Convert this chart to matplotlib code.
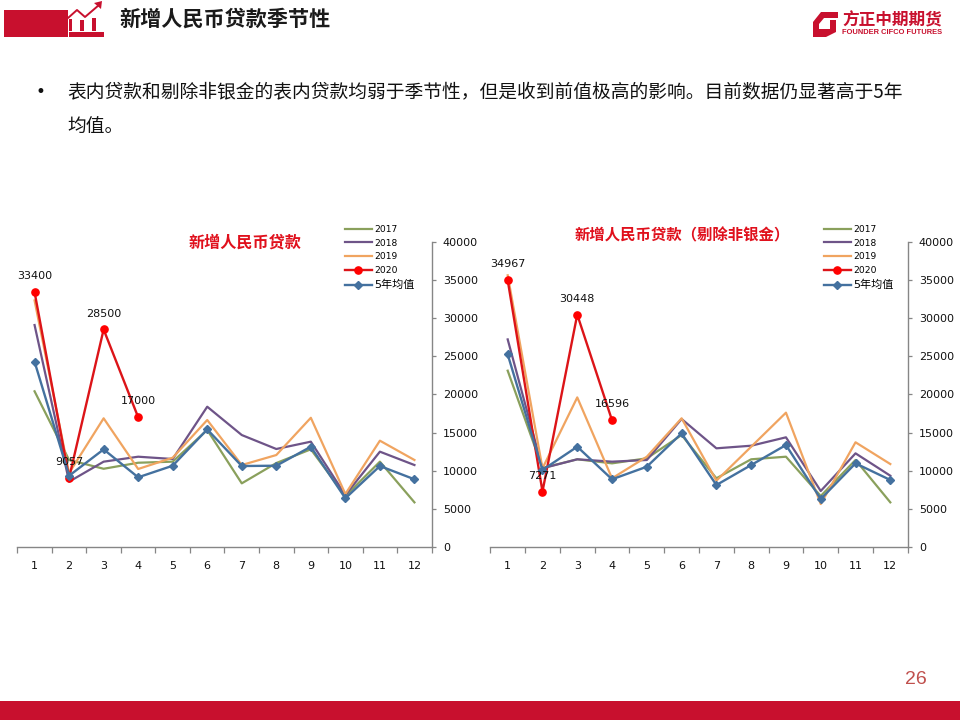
import matplotlib
matplotlib.use('Agg')
import matplotlib.pyplot as plt
from matplotlib.patches import Polygon, Rectangle

plt.rcParams['font.family'] = ['DejaVu Sans', 'Noto Sans CJK SC']

months = list(range(1, 13))
series_names = ['2017', '2018', '2019', '2020', '5年均值']
y_ticks = [0, 5000, 10000, 15000, 20000, 25000, 30000, 35000, 40000]

left_2017 = [20400, 11400, 10250, 11040, 11180, 15330, 8340, 11000, 12800, 6680, 11180, 5850]
left_2018 = [29080, 8560, 11180, 11830, 11530, 18380, 14670, 12840, 13800, 6810, 12490, 10740]
left_2019 = [32300, 9690, 16860, 10220, 11700, 16640, 10740, 12050, 16930, 6940, 13930, 11400]
left_2020 = [33400, 9057, 28500, 17000]
left_mean = [24280, 9340, 12790, 9130, 10650, 15410, 10610, 10650, 13140, 6380, 10610, 8870]

right_2017 = [23100, 10350, 11490, 10960, 11620, 14670, 9000, 11490, 11830, 6680, 11400, 5850]
right_2018 = [27200, 10310, 11490, 11180, 11400, 16770, 12930, 13270, 14370, 7340, 12270, 9340]
right_2019 = [35600, 10300, 19600, 9000, 11830, 16860, 8690, 13140, 17600, 5630, 13720, 10870]
right_2020 = [34967, 7271, 30448, 16596]
right_mean = [25240, 10090, 13140, 8870, 10520, 14890, 8120, 10740, 13360, 6290, 10960, 8780]

RED = '#C8102E'
GRAY = '#868686'
W, H = 960, 720

fig = plt.figure(figsize=(9.6, 7.2), dpi=100)
bg = fig.add_axes([0, 0, 1, 1])
bg.set_xlim(0, W)
bg.set_ylim(H, 0)
bg.axis('off')


def draw_chart(box, title, title_x, title_y, title_size, legend_x, values):
	x0, x1 = box
	ax = fig.add_axes([x0 / W, 1 - 547 / H, (x1 - x0) / W, 305.3 / H])
	ax.patch.set_alpha(0)
	v2017, v2018, v2019, v2020, vmean = values
	ax.plot(months, v2017, color='#8AA05C', lw=1.6, label=series_names[0])
	ax.plot(months, v2018, color='#6E5488', lw=1.6, label=series_names[1])
	ax.plot(months, v2019, color='#F0A460', lw=1.6, label=series_names[2])
	ax.plot(months[:4], v2020, color='#DC1418', lw=1.7, marker='o', ms=5.2,
		mfc='#FF0000', mec='#FF0000', label=series_names[3])
	ax.plot(months, vmean, color='#44719F', lw=1.7, marker='D', ms=4.4,
		mfc='#44719F', mec='#44719F', label=series_names[4])

	for m, v in zip(months[:4], v2020):
		ax.annotate(str(v), (m, v), xytext=(0, 11.5), textcoords='offset points',
			ha='center', va='center', fontsize=8, color='#111111')

	ax.set_xlim(0.5, 12.5)
	ax.set_ylim(0, 40000)
	ax.set_yticks(y_ticks)
	ax.yaxis.tick_right()
	ax.set_xticks(months)
	ax.set_xticks([m + 0.5 for m in range(0, 13)], minor=True)
	ax.tick_params(axis='x', which='major', length=0, pad=10, labelsize=8, labelcolor='#111111')
	ax.tick_params(axis='x', which='minor', length=4, width=0.9, color=GRAY, direction='out')
	ax.tick_params(axis='y', length=3, width=0.9, color=GRAY, pad=5, labelsize=8, labelcolor='#111111')
	for side in ['left', 'top']:
		ax.spines[side].set_visible(False)
	for side in ['bottom', 'right']:
		ax.spines[side].set_color(GRAY)
		ax.spines[side].set_linewidth(1.0)

	leg = ax.legend(loc='upper left', bbox_to_anchor=(legend_x / W, 1 - 225 / H),
		bbox_transform=fig.transFigure, frameon=False, fontsize=6.6, handlelength=2.9,
		handletextpad=0.25, labelspacing=0.5, borderpad=0, borderaxespad=0)
	leg.get_texts()[4].set_fontsize(8)
	bg.text(title_x, title_y, title, color='#E0101C', fontsize=title_size, fontweight='bold',
		ha='center', va='center', family=['Noto Sans CJK SC', 'DejaVu Sans'])
	return ax


draw_chart((17.3, 431.7), '新增人民币贷款', 245, 243, 11.6, 345,
	[left_2017, left_2018, left_2019, left_2020, left_mean])
draw_chart((490.3, 907.7), '新增人民币贷款\uff08剔除非银金\uff09', 682, 235, 11.1, 824,
	[right_2017, right_2018, right_2019, right_2020, right_mean])

# header block and icon
bg.add_patch(Rectangle((4, 10), 64, 27, color=RED, lw=0))
bg.add_patch(Rectangle((69, 32), 35, 5, color=RED, lw=0))
for bx, top in [(69, 19), (80, 20), (92, 18)]:
	bg.add_patch(Rectangle((bx, top), 3 if bx == 69 else 4, 31 - top, color=RED, lw=0))
bg.plot([68, 77, 85, 99], [18, 10, 17, 5], color=RED, lw=1.4, solid_capstyle='round')
bg.add_patch(Polygon([[94, 3], [102, 1], [101, 9]], color=RED, lw=0))
bg.set_xlim(0, W)
bg.set_ylim(H, 0)

cjk = ['Noto Sans CJK SC', 'DejaVu Sans']
bg.text(119, 19.5, '新增人民币贷款季节性', fontsize=15.2, fontweight='bold', color='#1A1A1A',
	va='center', ha='left', family=cjk)

# logo
bg.add_patch(Polygon([[821, 12], [838, 12], [838, 18], [824, 18], [819, 24], [819, 29],
	[830, 29], [830, 20], [836, 20], [836, 32], [826, 37], [813, 37], [813, 22]], color=RED, lw=0))
bg.text(842, 20, '方正中期期货', fontsize=12, fontweight='bold', color=RED, va='center',
	ha='left', family=cjk)
bg.text(842, 32.5, 'FOUNDER CIFCO FUTURES', fontsize=5.4, fontweight='bold', color=RED,
	va='center', ha='left', family=['Liberation Sans'])

# body text
bg.text(40, 92, '•', fontsize=12, color='#111111', va='center', ha='center')
bg.text(67, 92, '表内贷款和剔除非银金的表内贷款均弱于季节性\uff0c但是收到前值极高的影响。目前数据仍显著高于5年',
	fontsize=13.5, color='#111111', va='center', ha='left', family=cjk)
bg.text(67, 126, '均值。', fontsize=13.5, color='#111111', va='center', ha='left', family=cjk)

# footer
bg.add_patch(Rectangle((0, 701), W, 19, color=RED, lw=0))
bg.text(916, 680, '26', fontsize=14, color='#C0504D', va='center', ha='center',
	family=['Liberation Sans'])

fig.savefig('out.png', dpi=100)
